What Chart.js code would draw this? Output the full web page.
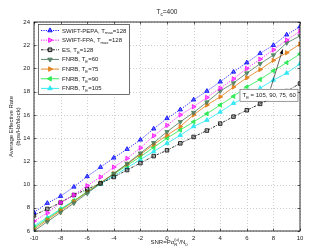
<!DOCTYPE html>
<html>
<head>
<meta charset="utf-8">
<script src="https://cdn.jsdelivr.net/npm/chart.js@4.4.0/dist/chart.umd.min.js"></script>
<style>
  html, body { margin: 0; padding: 0; background: #fff; }
</style>
</head>
<body>
<canvas id="chart" width="309" height="251"></canvas>
<script>
const snr = [-10, -9, -8, -7, -6, -5, -4, -3, -2, -1, 0, 1, 2, 3, 4, 5, 6, 7, 8, 9, 10];
const swift_pepa = [7.6, 8.4, 9.0, 9.8, 10.7, 11.5, 12.3, 13.05, 13.85, 14.8, 15.7, 16.45, 17.3, 18.05, 18.85, 19.7, 20.5, 21.3, 22.0, 22.9, 23.6];
const swift_fpa = [6.85, 7.55, 8.45, 9.1, 9.9, 10.65, 11.5, 12.25, 13.15, 14.2, 15.1, 16.0, 16.7, 17.5, 18.3, 19.1, 20.0, 20.8, 21.6, 22.45, 23.2];
const es = [7.35, 7.9, 8.45, 9.1, 9.6, 10.1, 10.65, 11.25, 11.85, 12.45, 12.95, 13.55, 14.1, 14.65, 15.25, 15.85, 16.4, 16.95, 17.5, 18.05, 18.7];
const fnrb_60 = [6.0, 6.8, 7.6, 8.4, 9.25, 10.1, 10.95, 11.8, 12.7, 13.6, 14.55, 15.4, 16.2, 17.1, 18.05, 18.75, 19.6, 20.4, 21.15, 22.2, 22.8];
const fnrb_75 = [6.15, 6.95, 7.75, 8.55, 9.35, 10.15, 10.95, 11.75, 12.6, 13.45, 14.25, 15.0, 16.0, 16.85, 17.55, 18.4, 19.2, 19.9, 20.7, 21.35, 22.1];
const fnrb_90 = [6.3, 7.05, 7.85, 8.6, 9.4, 10.15, 10.9, 11.65, 12.4, 13.2, 14.0, 14.7, 15.4, 16.1, 16.85, 17.6, 18.4, 19.05, 19.8, 20.5, 21.25];
const fnrb_105 = [6.45, 7.15, 7.9, 8.6, 9.3, 10.05, 10.75, 11.45, 12.15, 12.85, 13.55, 14.25, 15.0, 15.55, 16.25, 17.0, 17.55, 18.3, 19.0, 19.6, 20.4];
const x_ticks = [-10, -8, -6, -4, -2, 0, 2, 4, 6, 8, 10];
const y_ticks = [6, 8, 10, 12, 14, 16, 18, 20, 22, 24];

const FONT = "Liberation Sans, Arial, sans-serif";

// series: data, colour, marker, rotation, dash, legend label parts
const series = [
  { data: swift_pepa, color: "#0000ff", fill: "rgba(0,0,255,0.55)", style: "triangle", rot: 0, dash: [1.2, 1.2],
    label: [["SWIFT-PEPA, T"], ["max", "sub"], ["=128"]] },
  { data: swift_fpa, color: "#ff00ff", fill: "rgba(255,0,255,0.45)", style: "triangle", rot: 90, dash: [1.2, 1.2],
    label: [["SWIFT-FPA, T"], ["max", "sub"], ["=128"]] },
  { data: es, color: "#000000", fill: "rgba(120,120,120,0.5)", style: "rect", rot: 0, dash: [2.5, 1.2, 0.8, 1.2],
    label: [["ES, T"], ["E", "sub"], ["=128"]] },
  { data: fnrb_60, color: "#4c7a5c", fill: "rgba(76,122,92,0.8)", style: "triangle", rot: 180, dash: [],
    label: [["FNRB, T"], ["E", "sub"], ["=60"]] },
  { data: fnrb_75, color: "#e07a10", fill: "rgba(224,122,16,0.8)", style: "triangle", rot: 90, dash: [],
    label: [["FNRB, T"], ["E", "sub"], ["=75"]] },
  { data: fnrb_90, color: "#22e84a", fill: "rgba(34,232,74,0.8)", style: "triangle", rot: 270, dash: [],
    label: [["FNRB, T"], ["E", "sub"], ["=90"]] },
  { data: fnrb_105, color: "#22e6f2", fill: "rgba(34,230,242,0.8)", style: "triangle", rot: 0, dash: [],
    label: [["FNRB, T"], ["E", "sub"], ["=105"]] },
];

// draws text with sub / superscript parts, returns width
function richText(ctx, parts, x, y, size, align) {
  const widths = parts.map((p) => {
    ctx.font = (p[1] ? size * 0.7 : size) + "px " + FONT;
    return ctx.measureText(p[0]).width;
  });
  let total = 0;
  parts.forEach((p, i) => {
    if (p[1] == "sup2") return; // stacked with previous sub
    total += widths[i];
  });
  let cx = x;
  if (align == "center") cx = x - total / 2;
  let lastX = cx;
  parts.forEach((p, i) => {
    ctx.font = (p[1] ? size * 0.7 : size) + "px " + FONT;
    ctx.textBaseline = "alphabetic";
    ctx.textAlign = "left";
    if (p[1] == "sub") {
      ctx.fillText(p[0], cx, y + size * 0.3);
      lastX = cx;
      cx += widths[i];
    } else if (p[1] == "sup") {
      ctx.fillText(p[0], cx, y - size * 0.45);
      lastX = cx;
      cx += widths[i];
    } else if (p[1] == "sup2") {
      ctx.fillText(p[0], lastX, y - size * 0.45);
      cx = Math.max(cx, lastX + widths[i]);
    } else {
      ctx.fillText(p[0], cx, y);
      cx += widths[i];
    }
  });
  return total;
}

const decorations = {
  id: "decorations",
  beforeDatasetsDraw(chart) {
    const { ctx, chartArea: a, scales } = chart;
    ctx.save();
    // dotted grid
    ctx.strokeStyle = "#b8b8b8";
    ctx.lineWidth = 0.7;
    ctx.setLineDash([1, 2]);
    ctx.beginPath();
    x_ticks.forEach((v) => {
      const px = Math.round(scales.x.getPixelForValue(v)) + 0.5;
      ctx.moveTo(px, a.top); ctx.lineTo(px, a.bottom);
    });
    y_ticks.forEach((v) => {
      const py = Math.round(scales.y.getPixelForValue(v)) + 0.5;
      ctx.moveTo(a.left, py); ctx.lineTo(a.right, py);
    });
    ctx.stroke();
    ctx.setLineDash([]);
    // inner tick marks
    ctx.strokeStyle = "#000";
    ctx.lineWidth = 0.6;
    ctx.beginPath();
    x_ticks.forEach((v) => {
      const px = Math.round(scales.x.getPixelForValue(v)) + 0.5;
      ctx.moveTo(px, a.bottom); ctx.lineTo(px, a.bottom - 2.5);
      ctx.moveTo(px, a.top); ctx.lineTo(px, a.top + 2.5);
    });
    y_ticks.forEach((v) => {
      const py = Math.round(scales.y.getPixelForValue(v)) + 0.5;
      ctx.moveTo(a.left, py); ctx.lineTo(a.left + 2.5, py);
      ctx.moveTo(a.right, py); ctx.lineTo(a.right - 2.5, py);
    });
    ctx.stroke();
    ctx.restore();
  },
  afterDraw(chart) {
    const { ctx, chartArea: a, scales } = chart;
    ctx.save();
    ctx.strokeStyle = "#000";
    ctx.lineWidth = 0.8;
    ctx.strokeRect(a.left, a.top, a.right - a.left, a.bottom - a.top);

    ctx.fillStyle = "#222";
    // title
    richText(ctx, [["T"], ["c", "sub"], ["=400"]], (a.left + a.right) / 2, 14, 6.5, "center");
    // x title
    richText(ctx, [["SNR=P\u03b1"], ["R", "sub"], ["(u)", "sup2"], ["/N"], ["0", "sub"]], 168, 244, 6, "center");
    // y title
    ctx.save();
    ctx.translate(13, (a.top + a.bottom) / 2);
    ctx.rotate(-Math.PI / 2);
    ctx.font = "6px " + FONT;
    ctx.textAlign = "center";
    ctx.fillText("Average Effective Rate", 0, 0);
    ctx.fillText("(bps/Hz/block)", 0, 6.5);
    ctx.restore();

    // annotation: arrow and text box
    const tipX = scales.x.getPixelForValue(8.7), tipY = scales.y.getPixelForValue(21.65);
    const bx = scales.x.getPixelForValue(5.45), by = scales.y.getPixelForValue(18.25);
    const bw = 58, bh = 12;
    const sx = bx + 31, sy = by;
    ctx.strokeStyle = "#000";
    ctx.lineWidth = 0.6;
    ctx.beginPath();
    ctx.moveTo(sx, sy);
    ctx.lineTo(tipX, tipY);
    ctx.stroke();
    const ang = Math.atan2(tipY - sy, tipX - sx);
    ctx.fillStyle = "#000";
    ctx.beginPath();
    ctx.moveTo(tipX, tipY);
    ctx.lineTo(tipX - 5 * Math.cos(ang - 0.35), tipY - 5 * Math.sin(ang - 0.35));
    ctx.lineTo(tipX - 5 * Math.cos(ang + 0.35), tipY - 5 * Math.sin(ang + 0.35));
    ctx.closePath();
    ctx.fill();
    ctx.fillStyle = "#fff";
    ctx.fillRect(bx, by, bw, bh);
    ctx.strokeStyle = "#555";
    ctx.strokeRect(bx + 0.5, by + 0.5, bw, bh);
    ctx.fillStyle = "#222";
    richText(ctx, [["T"], ["E", "sub"], [" = 105, 90, 75, 60"]], bx + 3, by + 8, 6, "left");

    // legend
    const lx = 38, ly = 24, lw = 91, lh = 70;
    ctx.fillStyle = "#fff";
    ctx.fillRect(lx, ly, lw, lh);
    ctx.strokeStyle = "#333";
    ctx.lineWidth = 0.7;
    ctx.strokeRect(lx + 0.5, ly + 0.5, lw, lh);
    series.forEach((s, i) => {
      const ry = ly + 6.5 + i * 9.65;
      ctx.strokeStyle = s.color;
      ctx.lineWidth = 0.9;
      ctx.setLineDash(s.dash);
      ctx.beginPath();
      ctx.moveTo(lx + 3, ry);
      ctx.lineTo(lx + 21, ry);
      ctx.stroke();
      ctx.setLineDash([]);
      ctx.fillStyle = s.fill;
      Chart.helpers.drawPoint(ctx, { pointStyle: s.style, radius: 2.6, rotation: s.rot, borderWidth: 0.9 }, lx + 12, ry);
      ctx.fillStyle = "#222";
      richText(ctx, s.label, lx + 24, ry + 2, 6, "left");
    });
    ctx.restore();
  },
};

new Chart(document.getElementById("chart"), {
  type: "line",
  data: {
    datasets: series.map((s) => ({
      data: s.data.map((v, i) => ({ x: snr[i], y: v })),
      borderColor: s.color,
      backgroundColor: s.fill,
      pointBorderColor: s.color,
      pointBackgroundColor: s.fill,
      pointStyle: s.style,
      pointRotation: s.rot,
      pointRadius: 2.5,
      pointBorderWidth: 0.8,
      borderWidth: 0.8,
      borderDash: s.dash,
      tension: 0,
      fill: false,
    })),
  },
  options: {
    responsive: false,
    animation: false,
    events: [],
    layout: { padding: { left: 0, right: 9, top: 22, bottom: 0 } },
    plugins: { legend: { display: false }, title: { display: false }, tooltip: { enabled: false } },
    scales: {
      x: {
        type: "linear",
        min: -10,
        max: 10,
        afterFit: (scale) => { scale.height = 20; },
        afterBuildTicks: (scale) => { scale.ticks = x_ticks.map((v) => ({ value: v })); },
        grid: { display: false, drawTicks: false },
        border: { display: false },
        ticks: { padding: 4, color: "#222", font: { size: 6, family: FONT }, maxRotation: 0 },
      },
      y: {
        min: 6,
        max: 24,
        afterFit: (scale) => { scale.width = 34; },
        afterBuildTicks: (scale) => { scale.ticks = y_ticks.map((v) => ({ value: v })); },
        grid: { display: false, drawTicks: false },
        border: { display: false },
        ticks: { padding: 4, color: "#222", font: { size: 6, family: FONT } },
      },
    },
  },
  plugins: [decorations],
});
</script>
</body>
</html>
